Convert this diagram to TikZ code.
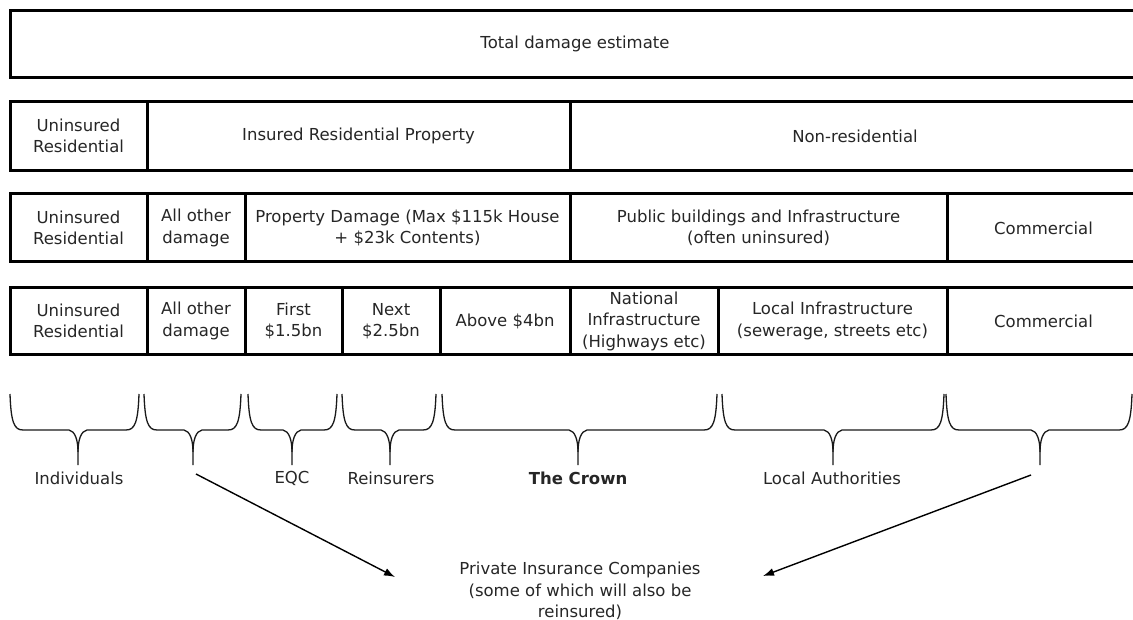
\documentclass[tikz,border=0pt]{standalone}
\usepackage{fontspec}
\setmainfont{DejaVu Sans}
\usetikzlibrary{arrows.meta}
\newcommand\cellfont{\fontsize{16.5}{21.5}\selectfont}
\newcommand\mybrace[3]{%
  \draw[bracestyle] (#1,394) .. controls ({#1+1},422) and ({#1+4},430) .. ({#1+13},430) -- ({#3-9},430) .. controls ({#3-3},431) and (#3,440) .. (#3,452) -- (#3,465);
  \draw[bracestyle] (#2,394) .. controls ({#2-1},422) and ({#2-4},430) .. ({#2-13},430) -- ({#3+9},430) .. controls ({#3+3},431) and (#3,440) .. (#3,452);
}
\begin{document}
\begin{tikzpicture}[x=1pt,y=-1pt,
  cell/.style={draw, line width=3pt, rectangle, inner sep=0pt, align=center, font=\cellfont, text=black!85},
  r1/.style={cell, minimum height=67pt},
  r2/.style={cell, minimum height=69pt},
  r3/.style={cell, minimum height=68pt},
  r4/.style={cell, minimum height=67.5pt},
  lbl/.style={font=\cellfont, text=black!85, inner sep=0pt},
  bracestyle/.style={line width=1.3pt, black!90},
  arr/.style={line width=1.4pt, -{Latex[length=11pt,width=8pt]}}
]
\useasboundingbox (0,0) rectangle (1133,620);
% row 1
\node[r1, minimum width=1130pt] (total) at (575,44) {Total damage estimate};
% row 2
\node[r2, minimum width=137pt] (ur2) at (78.5,136) {Uninsured\\Residential};
\node[r2, minimum width=423pt] (ir2) at (358.5,136) {Insured Residential Property};
\node[r2, minimum width=570pt] (nr2) at (855,136) {Non-residential};
% row 3
\node[r3, minimum width=137pt] (ur3) at (78.5,228) {Uninsured\\Residential};
\node[r3, minimum width=98pt] (ao3) at (196,228) {All other\\damage};
\node[r3, minimum width=325pt] (pd3) at (407.5,228) {Property Damage (Max \$115k House\\+ \$23k Contents)};
\node[r3, minimum width=377pt] (pb3) at (758.5,228) {Public buildings and Infrastructure\\(often uninsured)};
\node[r3, minimum width=193pt] (co3) at (1043.5,228) {Commercial};
% row 4
\node[r4, minimum width=137pt] (ur4) at (78.5,321) {Uninsured\\Residential};
\node[r4, minimum width=98pt] (ao4) at (196,321) {All other\\damage};
\node[r4, minimum width=97pt] (f4) at (293.5,321) {First\\\$1.5bn};
\node[r4, minimum width=98pt] (n4) at (391,321) {Next\\\$2.5bn};
\node[r4, minimum width=130pt] (a4) at (505,321) {Above \$4bn};
\node[r4, minimum width=148pt] (ni4) at (644,321) {National\\Infrastructure\\(Highways etc)};
\node[r4, minimum width=229pt] (li4) at (832.5,321) {Local Infrastructure\\(sewerage, streets etc)};
\node[r4, minimum width=193pt] (co4) at (1043.5,321) {Commercial};
% braces
\mybrace{10}{139}{78}
\mybrace{144}{241}{193}
\mybrace{248}{337}{292}
\mybrace{342}{436}{390}
\mybrace{442}{717}{578}
\mybrace{722}{944}{833}
\mybrace{946}{1132}{1040}
% labels
\node[lbl] (lind) at (79,478) {Individuals};
\node[lbl] (leqc) at (292,478) {EQC};
\node[lbl] (lrei) at (391,478) {Reinsurers};
\node[lbl, font=\cellfont\bfseries] (lcrown) at (578,478) {The Crown};
\node[lbl] (lla) at (832,478) {Local Authorities};
\node[lbl, align=center] (pic) at (580,591) {Private Insurance Companies\\(some of which will also be\\reinsured)};
% arrows
\coordinate (a1s) at (196,474);
\coordinate (a1e) at (395,577);
\coordinate (a2s) at (1031,475);
\coordinate (a2e) at (763,576);
\draw[arr] (a1s) -- (a1e);
\draw[arr] (a2s) -- (a2e);
\end{tikzpicture}
\end{document}
